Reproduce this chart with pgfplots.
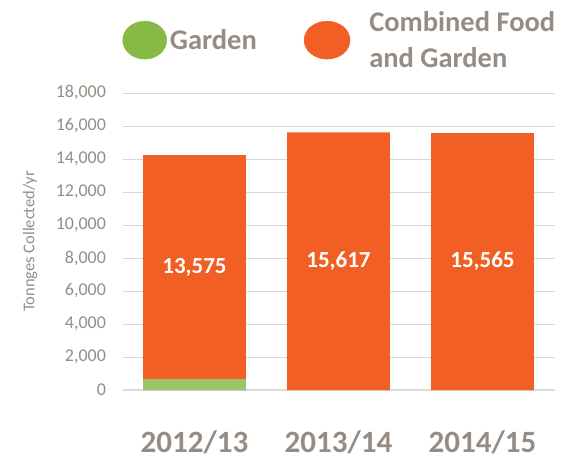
\documentclass[border=0pt]{standalone}
\usepackage{fontspec}
\setmainfont{Carlito}
\usepackage{pgfplots}
\usepackage{pgfplotstable}
\pgfplotsset{compat=1.18}
\definecolor{txt}{HTML}{958D85}
\definecolor{org}{HTML}{F15F25}
\definecolor{grn}{HTML}{9CC568}
\definecolor{lgrn}{HTML}{86BA45}
\definecolor{grd}{HTML}{D9D9D9}

\pgfplotstableread{
x garden combined
0 660 13575
1 0 15617
2 0 15565
}\datatable

\begin{document}
\begin{tikzpicture}
\useasboundingbox (0pt,0pt) rectangle (561pt,459pt);
\begin{axis}[
 at={(122.5pt,69pt)}, anchor=south west,
 scale only axis, width=432pt, height=297pt,
 xmin=-0.5, xmax=2.5, ymin=0, ymax=18000,
 clip=false,
 axis line style={draw=none},
 xtick={0,1,2}, xticklabels={2012/13,2013/14,2014/15},
 ytick={0,2000,...,18000},
 scaled y ticks=false,
 tick style={draw=none},
 ymajorgrids, grid style={draw=grd, line width=0.9pt},
 extra y ticks={0}, extra y tick labels={},
 extra y tick style={major grid style={draw=grd, line width=2pt}},
 yticklabel style={font=\fontsize{18}{18}\selectfont, text=txt, xshift=-13pt},
 xticklabel style={font=\bfseries\fontsize{31}{31}\selectfont, text=txt, anchor=base, yshift=-62pt},
 ylabel={Tonnges Collected/yr},
 ylabel style={font=\fontsize{16.5}{16.5}\selectfont, text=txt, at={(axis description cs:-0.214,0.5)}, anchor=center},
 legend style={at={(axis description cs:0,1.178)}, anchor=west, draw=none, fill=none,
   inner sep=0pt, outer sep=0pt, legend columns=2, cells={anchor=west},
   nodes={inner sep=0pt, font=\bfseries\fontsize{28.5}{36}\selectfont, text=txt, align=left},
   /tikz/every odd column/.append style={column sep=3pt},
   /tikz/every even column/.append style={column sep=47pt}},
 /pgf/number format/1000 sep={,},
 /pgf/number format/assume math mode=true,
]
\addlegendimage{legend image code/.code={\fill[lgrn] (22pt,0pt) ellipse [x radius=22pt, y radius=19pt];}}
\addlegendentry{Garden}
\addlegendimage{legend image code/.code={\fill[org] (23pt,0pt) ellipse [x radius=23pt, y radius=19pt]; \path (62pt,0pt);}}
\addlegendentry{Combined Food\\and Garden}

\addplot[forget plot, ybar, bar width=0.715, bar shift=0pt, fill=org, draw=none]
  table[x=x, y expr=\thisrow{garden}+\thisrow{combined}] {\datatable};
\addplot[forget plot, ybar, bar width=0.715, bar shift=0pt, fill=grn, draw=none]
  table[x=x, y=garden] {\datatable};
\addplot[forget plot, only marks, mark=none, nodes near coords, point meta=explicit,
  nodes near coords style={font=\bfseries\fontsize{23}{23}\selectfont, text=white, anchor=center}]
  table[x=x, y expr=\thisrow{garden}+\thisrow{combined}/2, meta=combined] {\datatable};
\end{axis}
\end{tikzpicture}
\end{document}
